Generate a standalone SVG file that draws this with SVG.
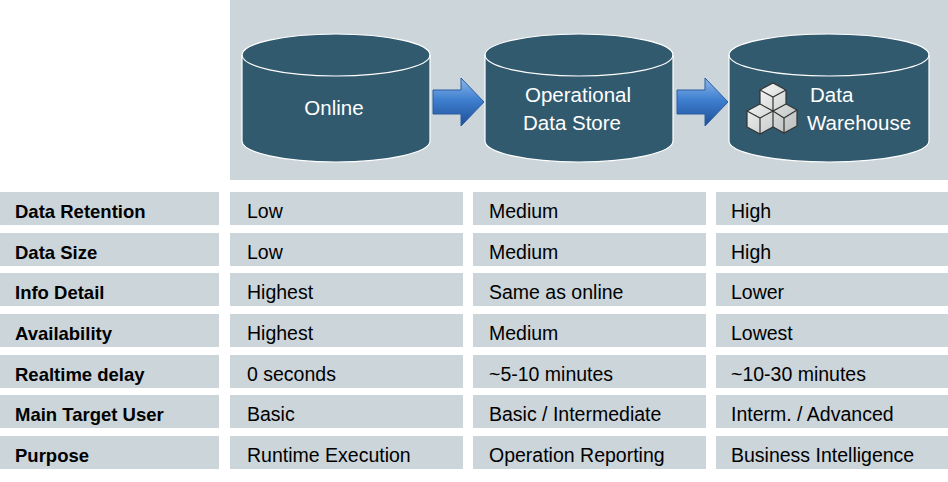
<svg xmlns="http://www.w3.org/2000/svg" width="948" height="482" viewBox="0 0 948 482">
<style>
.cell{fill:#cbd5da}
.lbl{font-family:"Liberation Sans",Arial,sans-serif;font-size:18.5px;font-weight:bold;fill:#000}
.val{font-family:"Liberation Sans",Arial,sans-serif;font-size:19.5px;fill:#000}
.cyl{fill:#325a6e;stroke:#fff;stroke-width:1.2}
.ct{font-family:"Liberation Sans",Arial,sans-serif;font-size:20.5px;fill:#fff}
</style>
<defs>
<linearGradient id="ag" x1="0" y1="0" x2="0" y2="1">
<stop offset="0" stop-color="#8cb8ea"/><stop offset="0.45" stop-color="#3f7fd0"/><stop offset="1" stop-color="#1d4f96"/>
</linearGradient>
<linearGradient id="cg" x1="0" y1="0" x2="1" y2="1">
<stop offset="0" stop-color="#ffffff"/><stop offset="1" stop-color="#b8bcbc"/>
</linearGradient>
</defs>
<rect width="948" height="482" fill="#fff"/>
<rect x="230" y="0" width="718" height="180" class="cell"/>
<g id="online">
<path class="cyl" d="M242,55 A94,21 0 0 1 430,55 V141 A94,21 0 0 1 242,141 Z"/>
<path d="M242,55 A94,21 0 0 0 430,55" fill="none" stroke="#fff" stroke-width="1.2"/>
<text class="ct" x="334" y="115" text-anchor="middle">Online</text>
</g>
<g id="ods">
<path class="cyl" d="M485,55 A94,21 0 0 1 673,55 V141 A94,21 0 0 1 485,141 Z"/>
<path d="M485,55 A94,21 0 0 0 673,55" fill="none" stroke="#fff" stroke-width="1.2"/>
<text class="ct" x="578" y="102" text-anchor="middle">Operational</text>
<text class="ct" x="572" y="130" text-anchor="middle">Data Store</text>
</g>
<g id="dw">
<path class="cyl" d="M729,55 A100,21 0 0 1 929,55 V141 A100,21 0 0 1 729,141 Z"/>
<path d="M729,55 A100,21 0 0 0 929,55" fill="none" stroke="#fff" stroke-width="1.2"/>
<g stroke="#333" stroke-width="1.2" fill="url(#cg)">
<polygon points="760,90 773,83 786,90 786,104 797,110 797,126 784,133 773,127 760,134 747,127 747,111 760,104"/>
<path d="M760,104 L773,111 L786,104 M773,111 V127 M760,90 L773,97 L786,90 M773,97 V111 M747,111 L760,118 L773,111 M760,118 V134 M773,111 L784,118 L797,110 M784,118 V133" fill="none"/>
</g>
<text class="ct" x="810" y="102">Data</text>
<text class="ct" x="807" y="130">Warehouse</text>
</g>
<g id="connectors">
<path d="M433,90 H461 V78 L484,102 L461,126 V114 H433 Z" fill="url(#ag)" stroke="#2a5d9f" stroke-width="1"/>
<path d="M677,90 H705 V78 L728,102 L705,126 V114 H677 Z" fill="url(#ag)" stroke="#2a5d9f" stroke-width="1"/>
</g>
<g id="table">
<g class="cell">
<rect x="0" y="192" width="219" height="33"/><rect x="230" y="192" width="233" height="33"/><rect x="473" y="192" width="233" height="33"/><rect x="716" y="192" width="232" height="33"/>
<rect x="0" y="233" width="219" height="33"/><rect x="230" y="233" width="233" height="33"/><rect x="473" y="233" width="233" height="33"/><rect x="716" y="233" width="232" height="33"/>
<rect x="0" y="273" width="219" height="33"/><rect x="230" y="273" width="233" height="33"/><rect x="473" y="273" width="233" height="33"/><rect x="716" y="273" width="232" height="33"/>
<rect x="0" y="314" width="219" height="33"/><rect x="230" y="314" width="233" height="33"/><rect x="473" y="314" width="233" height="33"/><rect x="716" y="314" width="232" height="33"/>
<rect x="0" y="355" width="219" height="33"/><rect x="230" y="355" width="233" height="33"/><rect x="473" y="355" width="233" height="33"/><rect x="716" y="355" width="232" height="33"/>
<rect x="0" y="395" width="219" height="33"/><rect x="230" y="395" width="233" height="33"/><rect x="473" y="395" width="233" height="33"/><rect x="716" y="395" width="232" height="33"/>
<rect x="0" y="436" width="219" height="33"/><rect x="230" y="436" width="233" height="33"/><rect x="473" y="436" width="233" height="33"/><rect x="716" y="436" width="232" height="33"/>
</g>
<g class="lbl">
<text x="15" y="218">Data Retention</text><text x="15" y="259">Data Size</text><text x="15" y="299">Info Detail</text><text x="15" y="340">Availability</text><text x="15" y="381">Realtime delay</text><text x="15" y="421">Main Target User</text><text x="15" y="462">Purpose</text>
</g>
<g class="val">
<text x="247" y="218">Low</text><text x="489" y="218">Medium</text><text x="731" y="218">High</text>
<text x="247" y="259">Low</text><text x="489" y="259">Medium</text><text x="731" y="259">High</text>
<text x="247" y="299">Highest</text><text x="489" y="299">Same as online</text><text x="731" y="299">Lower</text>
<text x="247" y="340">Highest</text><text x="489" y="340">Medium</text><text x="731" y="340">Lowest</text>
<text x="247" y="381">0 seconds</text><text x="489" y="381">~5-10 minutes</text><text x="731" y="381">~10-30 minutes</text>
<text x="247" y="421">Basic</text><text x="489" y="421">Basic / Intermediate</text><text x="731" y="421">Interm. / Advanced</text>
<text x="247" y="462">Runtime Execution</text><text x="489" y="462">Operation Reporting</text><text x="731" y="462">Business Intelligence</text>
</g>
</g>
</svg>
